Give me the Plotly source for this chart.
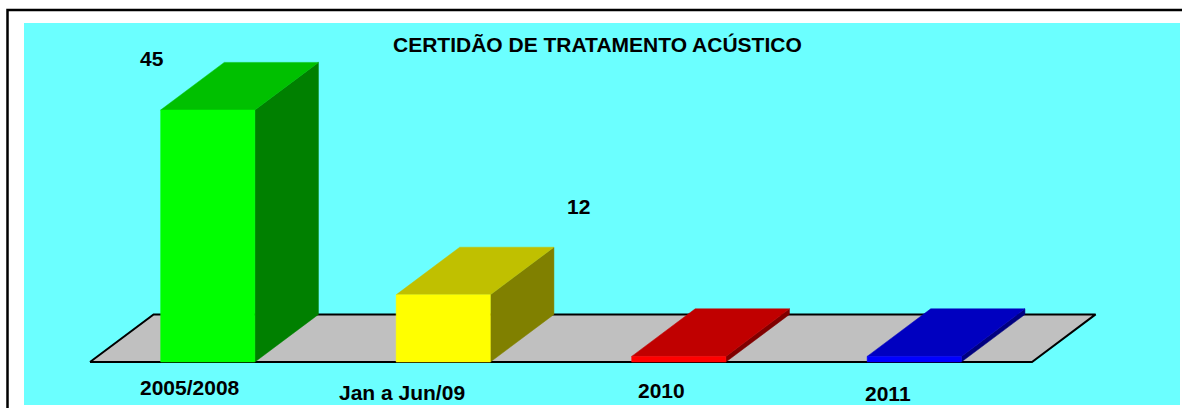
import plotly.graph_objects as go

# ---- data ----
title = "CERTIDÃO DE TRATAMENTO ACÚSTICO"
categories = ["2005/2008", "Jan a Jun/09", "2010", "2011"]
values = [45, 12, 1, 1]
show_value_label = [True, True, False, False]

# ---- style ----
front_colors = ["#00FF00", "#FFFF00", "#FF0000", "#0000FF"]
top_colors = ["#00C000", "#C0C000", "#C00000", "#0000C0"]
side_colors = ["#008000", "#808000", "#800000", "#000080"]
value_label_shift = [(-56, 52), (135, 88), (0, 20), (0, 20)]
cat_label_shift = [(-18, -25), (-41, -30), (-17, -28), (-26, -31)]
FONT = "Liberation Sans, Arial, sans-serif"
FS = 21
W, H = 1182, 408

# depth of the 3-D projection (in axis units)
DX = 0.27   # category units
DY = 8.5    # value units
BAR_W = 0.4
n = len(categories)

fig = go.Figure()

def poly(xs, ys, fill, line_color=None, lw=0):
    fig.add_trace(go.Scatter(
        x=xs + [xs[0]], y=ys + [ys[0]], mode="lines", fill="toself",
        fillcolor=fill,
        line=dict(color=line_color or fill, width=lw if lw else 0.5),
        hoverinfo="skip", showlegend=False))

# floor
poly([0, n, n + DX, DX], [0, 0, DY, DY], "#C0C0C0", "black", 2)

# bars
for i, v in enumerate(values):
    x0 = i + 0.5 - BAR_W / 2
    x1 = i + 0.5 + BAR_W / 2
    poly([x1, x1 + DX, x1 + DX, x1], [0, DY, v + DY, v], side_colors[i])
    poly([x0, x1, x1 + DX, x0 + DX], [v, v, v + DY, v + DY], top_colors[i])
    poly([x0, x1, x1, x0], [0, 0, v, v], front_colors[i])

annotations = []
for i, v in enumerate(values):
    if show_value_label[i]:
        sx, sy = value_label_shift[i]
        annotations.append(dict(
            x=i + 0.5, y=v, xref="x", yref="y", text=str(v), showarrow=False,
            xshift=sx, yshift=sy,
            font=dict(family=FONT, size=FS, color="black", weight="bold")))
for i, c in enumerate(categories):
    sx, sy = cat_label_shift[i]
    annotations.append(dict(
        x=i + 0.5, y=0, xref="x", yref="y", text=c, showarrow=False,
        xshift=sx, yshift=sy,
        font=dict(family=FONT, size=FS, color="black", weight="bold")))
annotations.append(dict(
    x=597 / W, y=1 - 44 / H, xref="paper", yref="paper", text=title,
    showarrow=False, xanchor="center", yanchor="middle",
    font=dict(family=FONT, size=FS, color="black", weight="bold")))

# axis mapping: x_px = 90 + 235.5*u ; y_px = 362 - 5.6*v
xr = [(0 - 90) / 235.5, (W - 90) / 235.5]
yr = [(362 - H) / 5.6, 362 / 5.6]

shapes = [
    dict(type="rect", xref="paper", yref="paper",
         x0=24 / W, x1=1180 / W, y0=1 - 405 / H, y1=1 - 23 / H,
         fillcolor="#6BFFFF", line=dict(width=0), layer="below"),
    dict(type="rect", xref="paper", yref="paper",
         x0=7.5 / W, x1=1195 / W, y0=1 - 420 / H, y1=1 - 10 / H,
         fillcolor="rgba(0,0,0,0)", line=dict(color="black", width=2.5),
         layer="below"),
]

fig.update_layout(
    width=W, height=H, margin=dict(l=0, r=0, t=0, b=0),
    paper_bgcolor="white", plot_bgcolor="rgba(0,0,0,0)",
    xaxis=dict(range=xr, visible=False, fixedrange=True),
    yaxis=dict(range=yr, visible=False, fixedrange=True),
    shapes=shapes, annotations=annotations, showlegend=False,
)

fig.write_html(
    "out.html",
    config={"displayModeBar": False, "staticPlot": True},
    post_script="document.body.style.margin='0';document.body.style.overflow='hidden';",
)
